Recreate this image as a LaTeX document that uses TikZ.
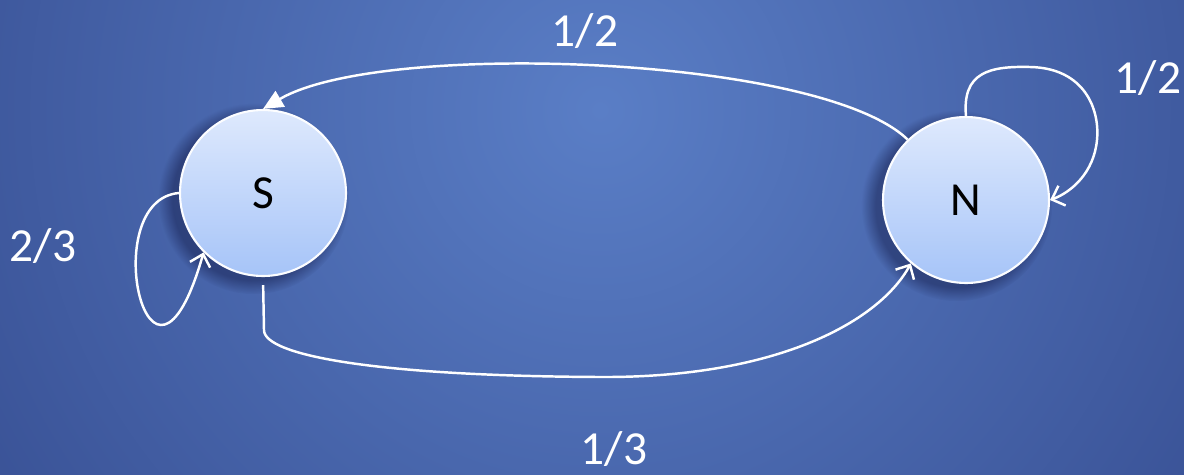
\documentclass[tikz,border=0pt]{standalone}
\usepackage{fontspec}
\setmainfont{Carlito}
\usetikzlibrary{arrows.meta,shadows}
\definecolor{bgin}{RGB}{90,126,198}
\definecolor{bgout}{RGB}{56,80,148}
\definecolor{ballhi}{RGB}{222,233,253}
\definecolor{balllo}{RGB}{166,196,248}
\begin{document}
\begin{tikzpicture}[x=0.02cm,y=-0.02cm,
    state/.style={circle,minimum size=3.32cm,inner sep=0pt,
      top color=ballhi,bottom color=balllo,draw=white!90!ballhi,line width=1.2pt,
      circular drop shadow={shadow xshift=-0.16cm,shadow yshift=-0.1cm,
        shadow scale=1.15,opacity=0.35,fill=black!85!blue},
      font=\fontsize{27}{32}\selectfont},
    edge/.style={white,line width=1.4pt,-{Straight Barb[length=0.22cm,width=0.42cm]}},
    prob/.style={white,font=\fontsize{27}{32}\selectfont}]
  \useasboundingbox (0,0) rectangle (1184,474);
  \begin{scope}
    \clip (0,0) rectangle (1184,474);
    \shade[inner color=bgin,outer color=bgout] (600,110) circle (760);
  \end{scope}
  \node[state] (S) at (263,193) {S};
  \node[state] (N) at (966,200) {N};
  \draw[edge,-{Triangle[length=0.4cm,width=0.36cm]}] (N.134)
    .. controls (820,55) and (380,40) .. (S.90);
  \draw[edge,shorten <=0.16cm] (S.south) -- (264,330)
    .. controls (264,356) and (380,376) .. (600,377)
    .. controls (780,378) and (880,320) .. (N.229);
  \draw[edge] (S.180) .. controls (95,200) and (150,440) .. (S.225);
  \draw[edge] (N.90) .. controls (962,72) and (990,66) .. (1030,67)
    .. controls (1085,68) and (1100,110) .. (1097,140)
    .. controls (1094,172) and (1072,192) .. (N.0);
  \node[prob] (top) at (585,31) {1/2};
  \node[prob] (bot) at (614,449) {1/3};
  \node[prob] (sl) at (43,246) {2/3};
  \node[prob] (nl) at (1148,78) {1/2};
\end{tikzpicture}
\end{document}
